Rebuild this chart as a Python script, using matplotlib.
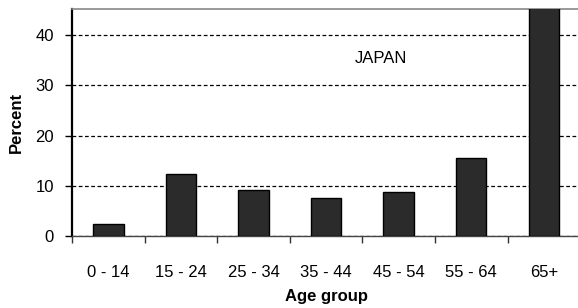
import matplotlib.pyplot as plt
import numpy as np

# Share of population by age group, Japan
age_groups = ["0 - 14", "15 - 24", "25 - 34", "35 - 44", "45 - 54", "55 - 64", "65+"]
percent = [2.4, 12.3, 9.1, 7.6, 8.8, 15.5, 46.0]


def plot_japan():
    plt.rcParams["font.family"] = ["Liberation Sans", "DejaVu Sans"]
    fig = plt.figure(figsize=(5.78, 3.08), dpi=100)
    ax = fig.add_axes([0.1246, 0.2338, 0.879, 0.737])

    x = np.arange(len(age_groups))
    ax.bar(x, percent, 0.42, color="#2b2b2b", edgecolor="black", linewidth=1, zorder=3)

    ax.set_xlim(-0.5, len(age_groups) - 0.5)
    ax.set_ylim(0, 45.2)
    ax.set_yticks([0, 10, 20, 30, 40])
    ax.yaxis.grid(True, linestyle=(0, (3, 2)), color="black", linewidth=0.9)
    ax.set_axisbelow(True)

    # category labels centred, ticks between categories
    ax.set_xticks(x)
    ax.set_xticklabels(age_groups, fontsize=12)
    ax.set_xticks(np.arange(len(age_groups) + 1) - 0.5, minor=True)
    ax.tick_params(axis="x", which="major", length=0, pad=21)
    ax.tick_params(axis="x", which="minor", length=5, width=1, color="#333333")
    ax.tick_params(axis="y", length=5, width=1, labelsize=12, pad=8)

    ax.spines["left"].set_linewidth(1.6)
    ax.spines["left"].set_color("black")
    ax.spines["bottom"].set_color("#444444")
    ax.spines["bottom"].set_linewidth(1)
    ax.spines["top"].set_color("#888888")
    ax.spines["top"].set_linewidth(1.2)
    ax.spines["right"].set_visible(False)

    ax.set_xlabel("Age group", fontsize=12, fontweight="bold", labelpad=6.5)
    ax.set_ylabel("Percent", fontsize=12, fontweight="bold", labelpad=8.5)
    ax.text(3.75, 35.4, "JAPAN", fontsize=12, ha="center", va="center")

    fig.savefig("out.png", dpi=100)


if __name__ == "__main__":
    plot_japan()
